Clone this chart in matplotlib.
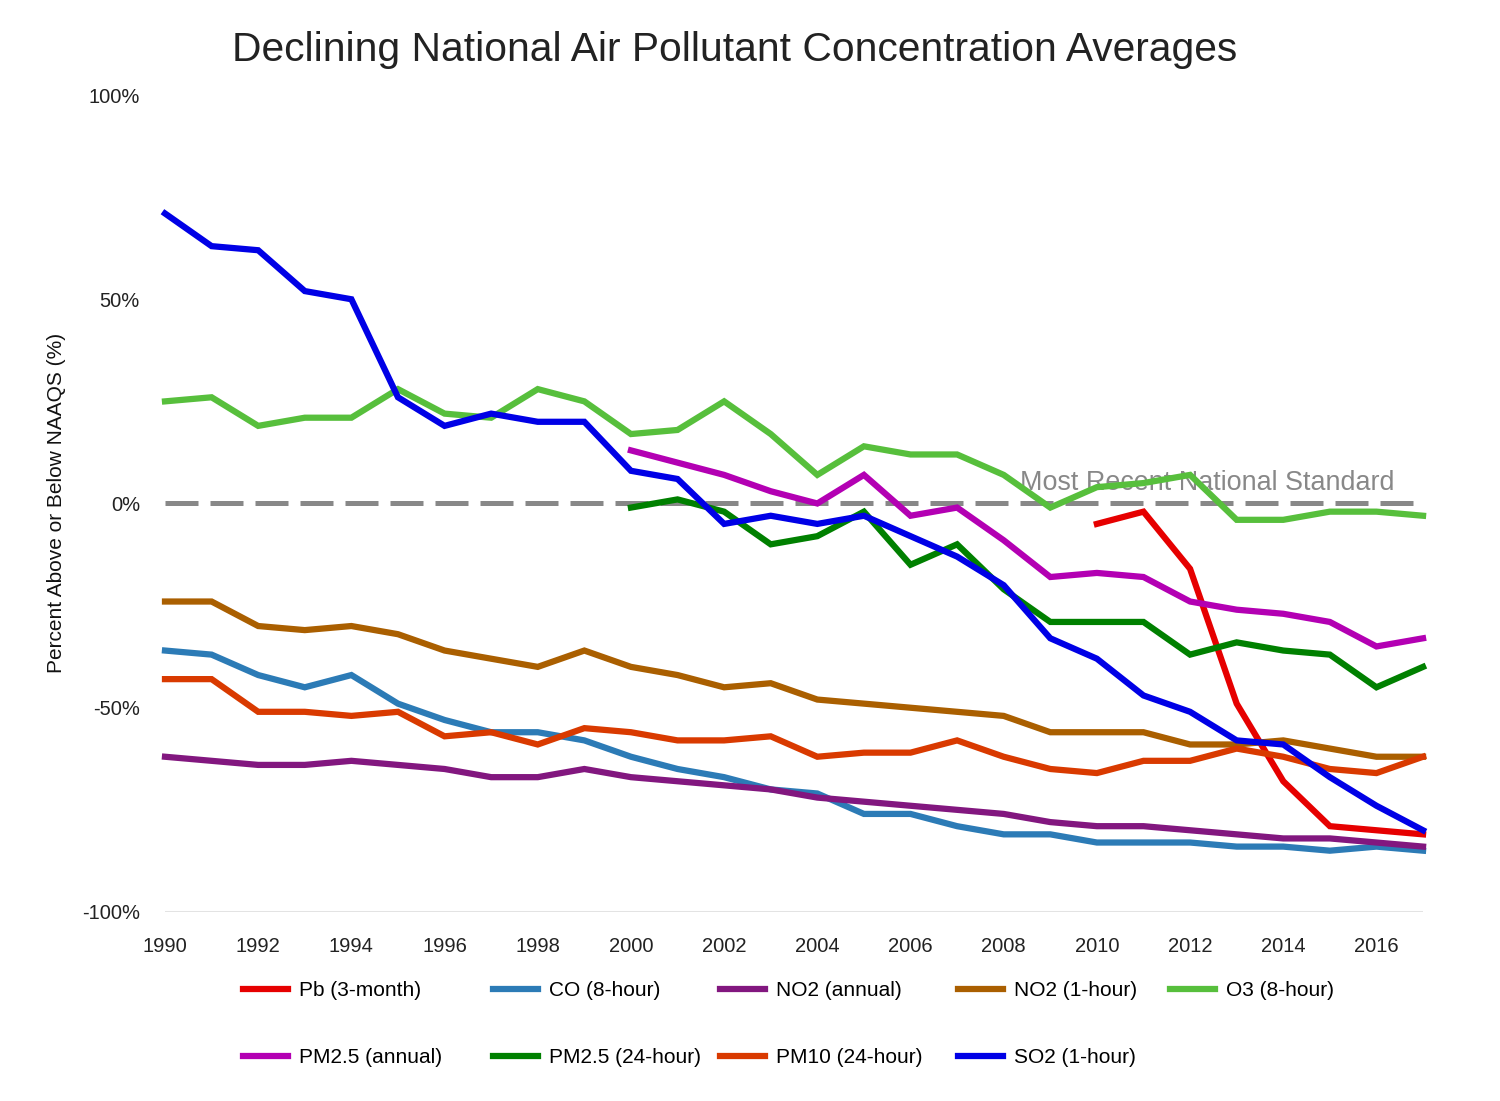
import numpy as np
import matplotlib
matplotlib.use("Agg")
import matplotlib.pyplot as plt

plt.rcParams['font.family'] = ['Liberation Sans', 'DejaVu Sans']

years = list(range(1990, 2018))

pb = [None]*20 + [-5, -2, -16, -49, -68, -79, -80, -81]
co = [-36, -37, -42, -45, -42, -49, -53, -56, -56, -58, -62, -65, -67, -70,
      -71, -76, -76, -79, -81, -81, -83, -83, -83, -84, -84, -85, -84, -85]
no2_annual = [-62, -63, -64, -64, -63, -64, -65, -67, -67, -65, -67, -68, -69, -70,
              -72, -73, -74, -75, -76, -78, -79, -79, -80, -81, -82, -82, -83, -84]
no2_1hr = [-24, -24, -30, -31, -30, -32, -36, -38, -40, -36, -40, -42, -45, -44,
           -48, -49, -50, -51, -52, -56, -56, -56, -59, -59, -58, -60, -62, -62]
o3 = [25, 26, 19, 21, 21, 28, 22, 21, 28, 25, 17, 18, 25, 17,
      7, 14, 12, 12, 7, -1, 4, 5, 7, -4, -4, -2, -2, -3]
pm25_annual = [None]*10 + [13, 10, 7, 3, 0, 7, -3, -1, -9, -18, -17, -18, -24, -26, -27, -29, -35, -33]
pm25_24hr = [None]*10 + [-1, 1, -2, -10, -8, -2, -15, -10, -21, -29, -29, -29, -37, -34, -36, -37, -45, -40]
pm10 = [-43, -43, -51, -51, -52, -51, -57, -56, -59, -55, -56, -58, -58, -57,
        -62, -61, -61, -58, -62, -65, -66, -63, -63, -60, -62, -65, -66, -62]
so2 = [71, 63, 62, 52, 50, 26, 19, 22, 20, 20, 8, 6, -5, -3,
       -5, -3, -8, -13, -20, -33, -38, -47, -51, -58, -59, -67, -74, -80]

series = [
    ("Pb (3-month)", pb, "#e60000"),
    ("CO (8-hour)", co, "#2c7bb6"),
    ("NO2 (annual)", no2_annual, "#82177f"),
    ("NO2 (1-hour)", no2_1hr, "#aa5f00"),
    ("O3 (8-hour)", o3, "#57bf3c"),
    ("PM2.5 (annual)", pm25_annual, "#b300b3"),
    ("PM2.5 (24-hour)", pm25_24hr, "#008000"),
    ("PM10 (24-hour)", pm10, "#d93a00"),
    ("SO2 (1-hour)", so2, "#0000e6"),
]

fig = plt.figure(figsize=(15, 11.01), dpi=100)
ax = fig.add_axes([0.11, 0.1717, 0.8387, 0.742])

ax.axhline(-100, color="#e3e3e3", lw=2.2, zorder=0)
ax.axhline(0, color="#888888", lw=3.6, dashes=(6.6, 2.4), zorder=1)
ax.text(2008.35, 1.9, "Most Recent National Standard", color="#888888",
        fontsize=19.4, va="bottom", ha="left", zorder=1)

handles = []
for name, vals, col in series:
    y = np.array([np.nan if v is None else v for v in vals], dtype=float)
    h, = ax.plot(years, y, color=col, lw=4.5, label=name, solid_joinstyle="miter",
                 clip_on=False, zorder=3)
    handles.append(h)

ax.set_xlim(1990, 2017)
ax.set_ylim(-100, 100)
ax.set_xticks(range(1990, 2017, 2))
ax.set_yticks([-100, -50, 0, 50, 100])
ax.set_yticklabels(["-100%", "-50%", "0%", "50%", "100%"])
ax.tick_params(length=0, labelsize=14.5, colors="#222222")
ax.tick_params(axis="x", pad=18)
ax.tick_params(axis="y", pad=18)
for s in ax.spines.values():
    s.set_visible(False)

fig.text(57/1500, 1 - 503/1101, "Percent Above or Below NAAQS (%)", rotation=90,
         ha="center", va="center", fontsize=15, color="#111111")

fig.text(0.49, 0.955, "Declining National Air Pollutant Concentration Averages",
         ha="center", va="center", fontsize=29.3, color="#222222")

# legend: two rows, columns placed like the original
col_x = [243, 493, 720, 958, 1170]
for i, x in enumerate(col_x):
    hs = [handles[i]] + ([handles[i + 5]] if i + 5 < len(handles) else [])
    fig.legend(handles=hs, loc="upper left", bbox_to_anchor=(x/1500, 1 - 981/1101),
               frameon=False, fontsize=15, handlelength=2.15, handletextpad=0.55,
               labelspacing=2.3, borderpad=0, borderaxespad=0)

fig.savefig("out.png", dpi=100)
